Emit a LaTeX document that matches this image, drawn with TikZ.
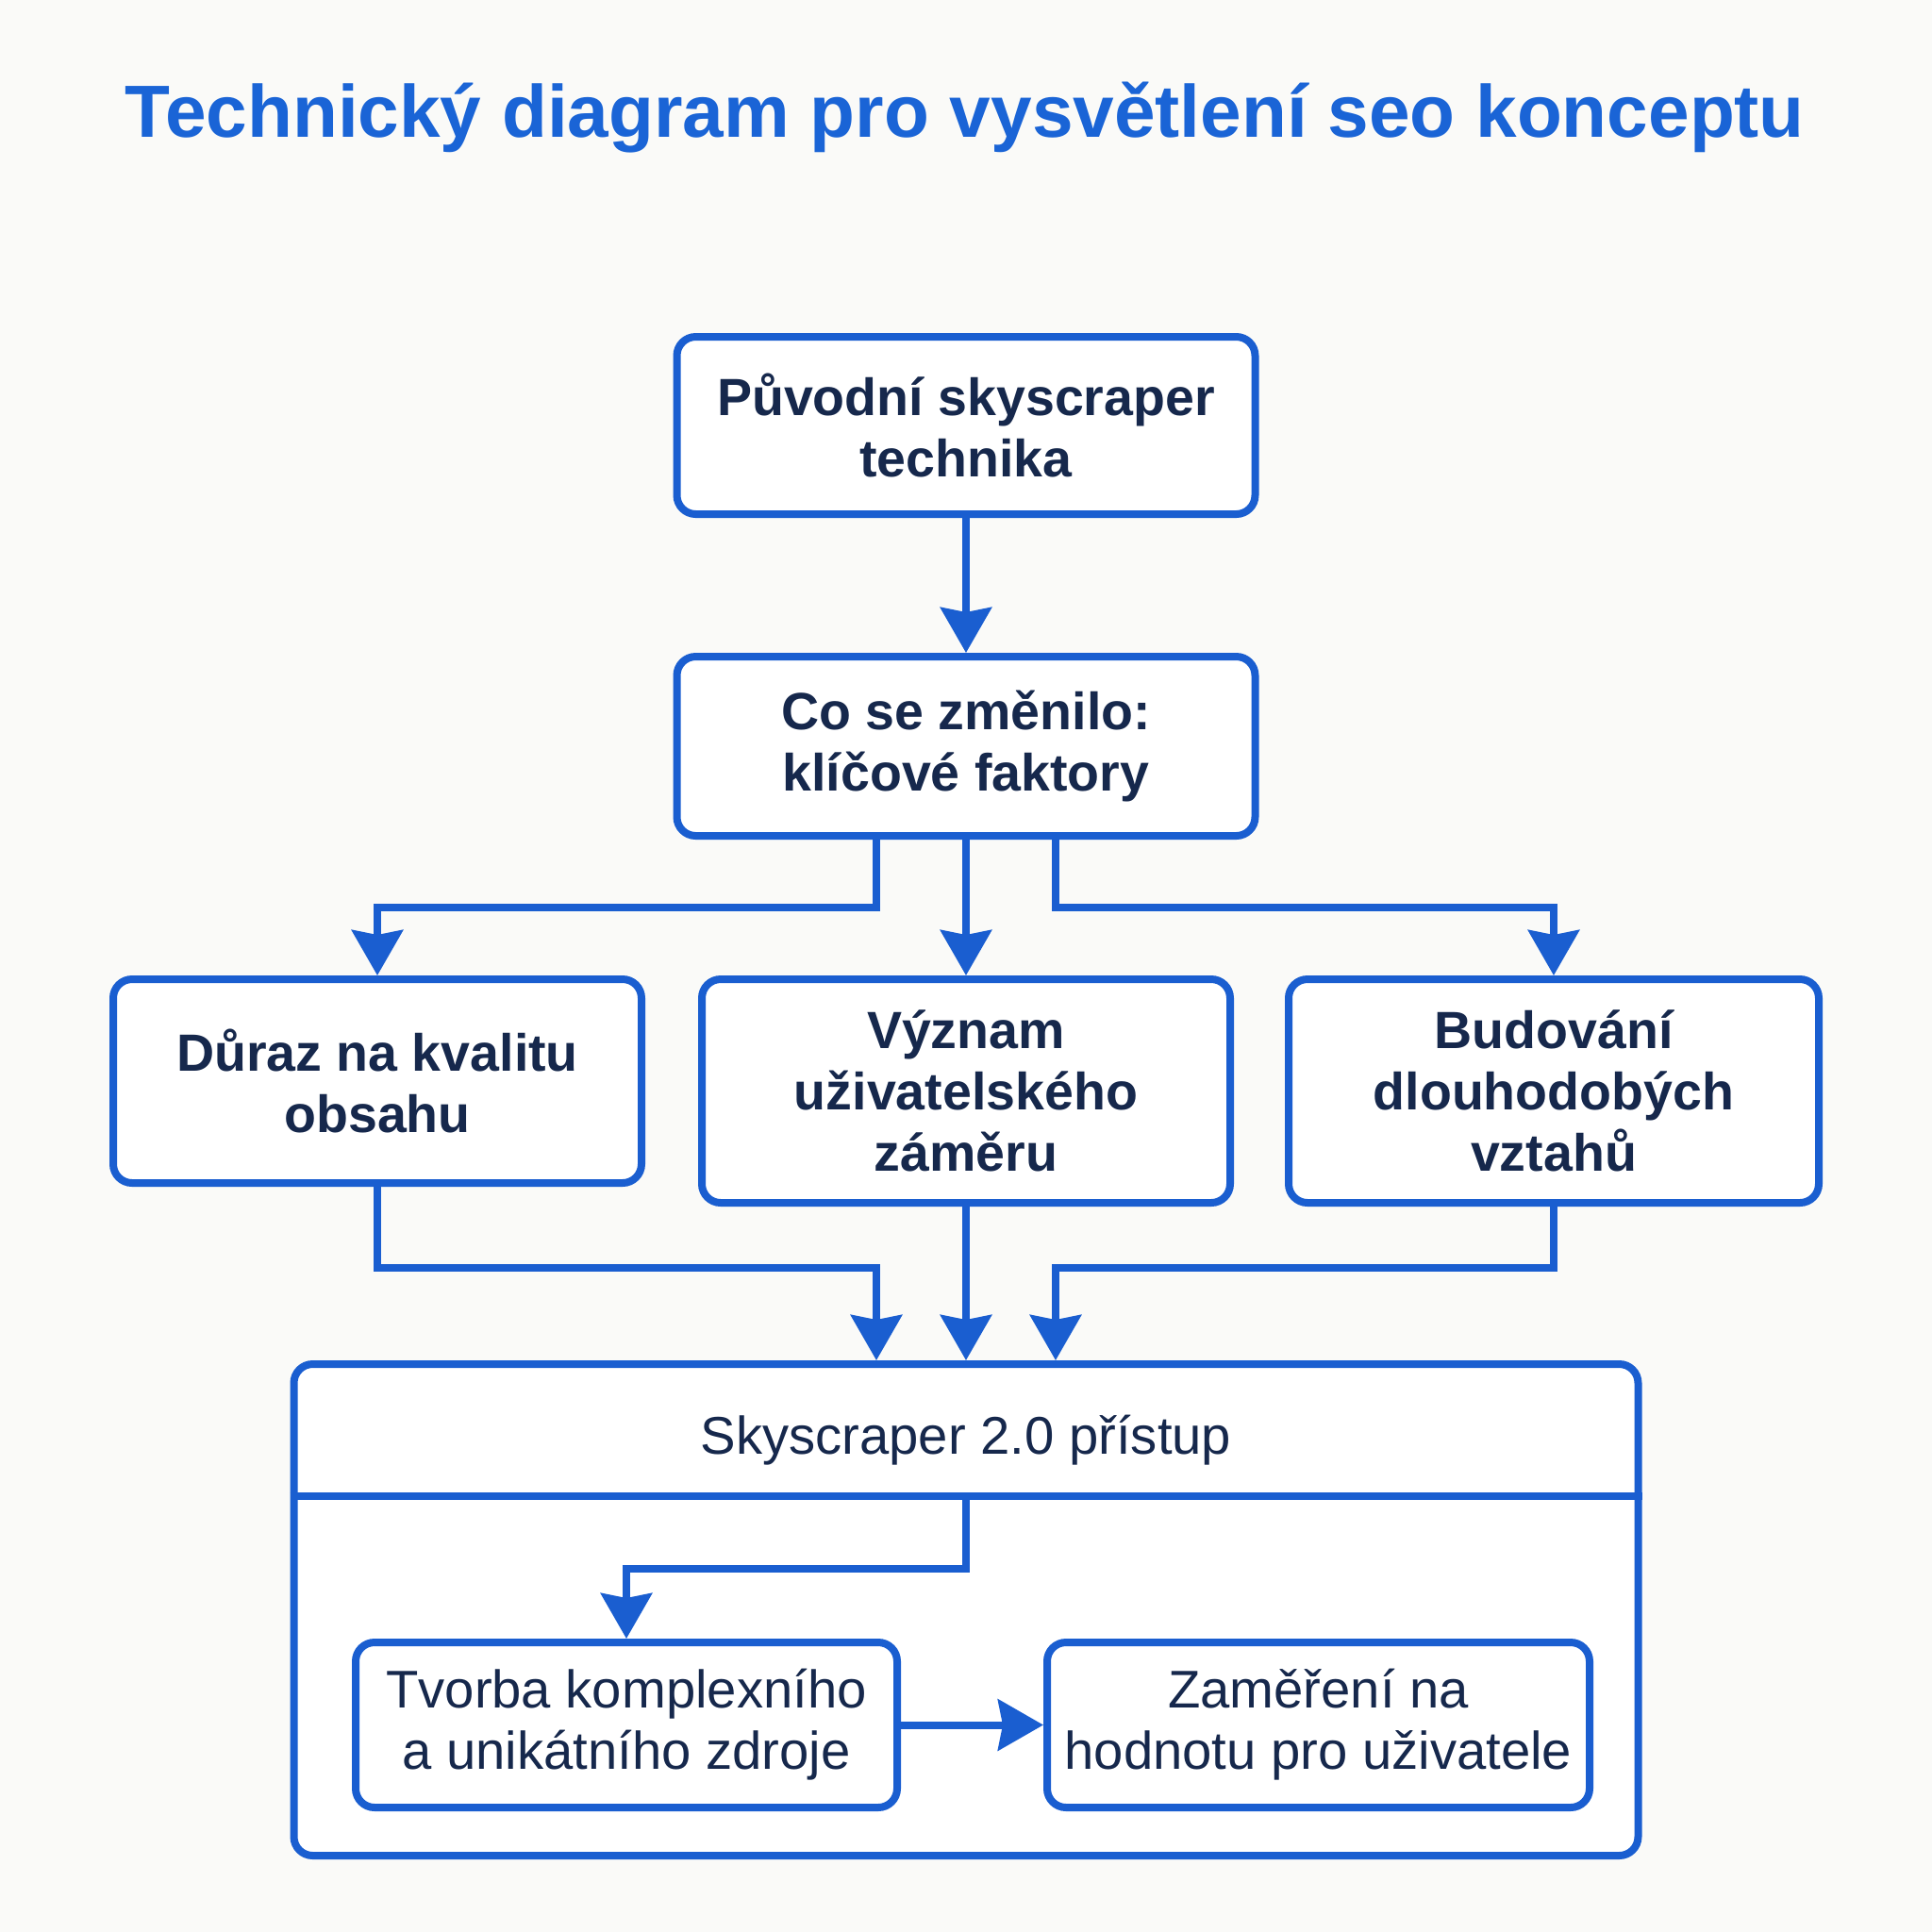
\documentclass[tikz,border=0pt]{standalone}
\usepackage{fontspec}
\setmainfont{Liberation Sans}
\usepackage{xcolor}
\definecolor{Col1}{RGB}{26,94,208}
\definecolor{Col2}{RGB}{22,40,76}
\definecolor{Col3}{RGB}{26,100,214}
\definecolor{Back}{RGB}{250,250,248}
\usetikzlibrary{arrows.meta}
\tikzstyle{Box}=[rectangle,rounded corners=0.2cm,draw=Col1,line width=0.08cm,
fill=white,align=center,text=Col2,inner sep=0pt,
font=\fontsize{15.8}{18.5}\selectfont\bfseries]
\tikzstyle{Plain}=[Box,font=\fontsize{16}{18.5}\selectfont]
\tikzstyle{Head}=[text=Col2,font=\fontsize{16}{18.5}\selectfont]
\tikzstyle{Title}=[text=Col3,font=\fontsize{22.3}{26}\selectfont\bfseries]
\tikzstyle{Rule}=[draw=Col1,line width=0.08cm]
\tikzstyle{Edge}=[Rule,-{Stealth[length=0.48cm,width=0.54cm,inset=0.05cm]}]

\begin{document}
\begin{tikzpicture}
        \fill[Back](0,0)rectangle(20.48,-20.48);
        \useasboundingbox(0,0)rectangle(20.48,-20.48);
        \node[Title](t)at(10.23,-1.25)
                {Technický diagram pro vysvětlení seo konceptu};
        \node[Box,minimum width=6.13cm,minimum height=1.88cm](1)at(10.24,-4.51)
                {Původní skyscraper\\technika};
        \node[Box,minimum width=6.13cm,minimum height=1.90cm](2)at(10.24,-7.91)
                {Co se změnilo:\\klíčové faktory};
        \node[Box,minimum width=5.60cm,minimum height=2.16cm](3)at(4.00,-11.46)
                {Důraz na kvalitu\\obsahu};
        \node[Box,minimum width=5.60cm,minimum height=2.37cm](4)at(10.24,-11.565)
                {Význam\\uživatelského\\záměru};
        \node[Box,minimum width=5.62cm,minimum height=2.37cm](5)at(16.47,-11.565)
                {Budování\\dlouhodobých\\vztahů};
        \node[Box,minimum width=14.25cm,minimum height=5.21cm](b)at(10.24,-17.065){};
        \node[Head](h)at(10.24,-15.27){Skyscraper 2.0 přístup};
        \coordinate(d)at(10.24,-15.86);
        \draw[Rule](b.west|-d)--(b.east|-d);
        \node[Plain,minimum width=5.74cm,minimum height=1.75cm](6)at(6.64,-18.285)
                {Tvorba komplexního\\a unikátního zdroje};
        \node[Plain,minimum width=5.75cm,minimum height=1.75cm](7)at(13.975,-18.285)
                {Zaměření na\\hodnotu pro uživatele};
        \draw[Edge](1)--(2);
        \draw[Edge]([xshift=-0.95cm]2.south)--++(0,-0.72)-|(3.north);
        \draw[Edge](2)--(4);
        \draw[Edge]([xshift=0.95cm]2.south)--++(0,-0.72)-|(5.north);
        \draw[Edge](3.south)--++(0,-0.86)-|([xshift=-0.95cm]b.north);
        \draw[Edge](4)--(b);
        \draw[Edge](5.south)--++(0,-0.65)-|([xshift=0.95cm]b.north);
        \draw[Edge](d)--++(0,-0.77)-|(6.north);
        \draw[Edge](6)--(7);
    \end{tikzpicture}
\end{document}
